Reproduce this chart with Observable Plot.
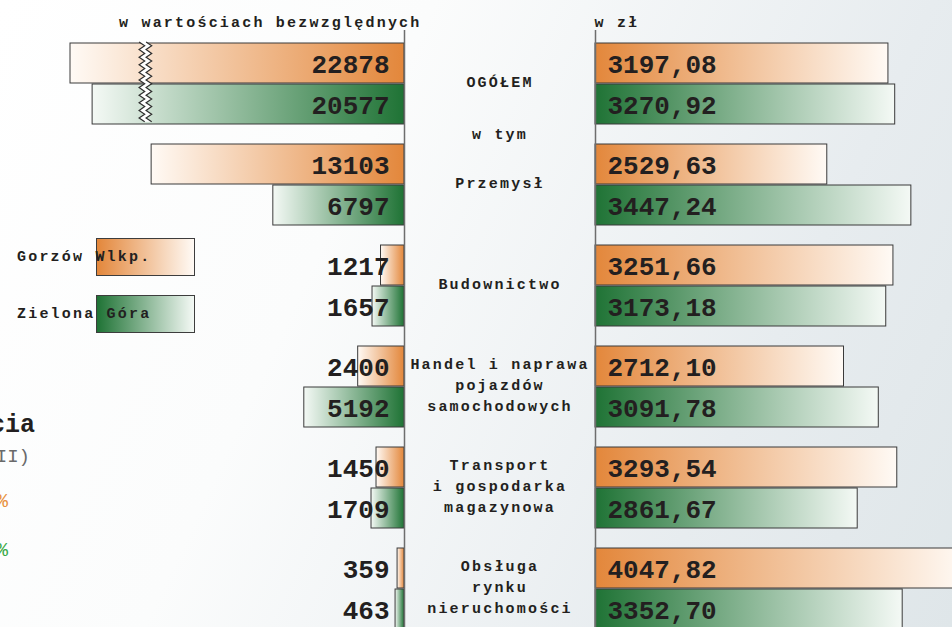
<!DOCTYPE html>
<html>
<head>
<meta charset="utf-8">
<script src="https://cdn.jsdelivr.net/npm/d3@7"></script>
<script src="https://cdn.jsdelivr.net/npm/@observablehq/plot@0.6"></script>
<style>
html, body { margin: 0; padding: 0; }
body { width: 952px; height: 627px; overflow: hidden;
  background: linear-gradient(115deg, #ffffff 0%, #fbfcfc 35%, #e7ecef 75%, #dfe6e9 100%); }
#wrap { position: relative; width: 952px; height: 627px; overflow: hidden; font-family: "Liberation Mono", monospace; color: #231f20; }
#wrap svg { position: absolute; left: 0; top: 0; }
g[aria-label="text"][font-size="15"] text { letter-spacing: 2.2px; }
.legbox { position: absolute; width: 97px; height: 36px; border: 1px solid #3d3d3d; }
.legtxt { position: absolute; left: 17px; font-weight: bold; font-size: 15px; letter-spacing: 2.2px; line-height: 20px; white-space: nowrap; }
.frag { position: absolute; white-space: nowrap; text-align: right; line-height: 1; }
</style>
</head>
<body>
<div id="wrap"></div>
<script>
// ---- data ----
const categories = ["OGÓŁEM", "Przemysł", "Budownictwo",
  "Handel i naprawa\npojazdów\nsamochodowych",
  "Transport\ni gospodarka\nmagazynowa",
  "Obsługa\nrynku\nnieruchomości"];
const cities = ["Gorzów Wlkp.", "Zielona Góra"];
const employedGorzow = [22878, 13103, 1217, 2400, 1450, 359];
const employedZielona = [20577, 6797, 1657, 5192, 1709, 463];
const wageGorzow = [3197.08, 2529.63, 3251.66, 2712.10, 3293.54, 4047.82];
const wageZielona = [3270.92, 3447.24, 3173.18, 3091.78, 2861.67, 3352.70];
const headerLeft = "w wartościach bezwzględnych";
const headerRight = "w zł";
const subLabel = "w tym";

// ---- styling ----
const orange = "#e3873b", orangeLight = "#fffaf5";
const green = "#1f7335", greenLight = "#f4f9f5";
const ink = "#231f20";
const BAND = 82, HALF = BAND / 2;
const yScale = {type: "band", domain: categories, range: [40.4, 631.9], paddingInner: 0.195, paddingOuter: 0, axis: null};

const rowsOf = (vals) => categories.map((c, i) => ({cat: c, value: vals[i]}));
const leftO = rowsOf(employedGorzow), leftG = rowsOf(employedZielona);
const rightO = rowsOf(wageGorzow), rightG = rowsOf(wageZielona);

function defsMark() {
  const defs = d3.create("svg:defs");
  const add = (id, c1, c2) => {
    const g = defs.append("linearGradient").attr("id", id)
      .attr("x1", "0%").attr("x2", "100%").attr("y1", "0%").attr("y2", "0%");
    g.append("stop").attr("offset", "0%").attr("stop-color", c1);
    g.append("stop").attr("offset", "100%").attr("stop-color", c2);
  };
  add("gL-o", orangeLight, orange);
  add("gL-g", greenLight, green);
  add("gR-o", orange, orangeLight);
  add("gR-g", green, greenLight);
  return defs.node();
}

// break ("zigzag") marker on the truncated OGÓŁEM bars
const breakValue = 14100;
function breakMark(index, scales) {
  const x = scales.x, y = scales.y;
  const xb = x(breakValue);
  const y0 = y(categories[0]) - 1;
  const bw = y.bandwidth ? y.bandwidth() : BAND;
  const y1 = y0 + bw + 2;
  const ptsL = [], ptsR = [];
  let k = 0;
  for (let yy = y0; yy <= y1 + 0.01; yy += 3.8, k++) {
    const off = (k % 2 ? 2.8 : -2.8);
    ptsL.push([xb - 3.5 + off, yy]);
    ptsR.push([xb + 3.5 + off, yy]);
  }
  const g = d3.create("svg:g");
  const poly = ptsL.concat(ptsR.slice().reverse());
  g.append("path").attr("d", "M" + poly.map(p => p.join(",")).join("L") + "Z").attr("fill", "#ffffff");
  const line = d3.line();
  g.append("path").attr("d", line(ptsL)).attr("fill", "none").attr("stroke", "#2e2e2e").attr("stroke-width", 1.2);
  g.append("path").attr("d", line(ptsR)).attr("fill", "none").attr("stroke", "#2e2e2e").attr("stroke-width", 1.2);
  return g.node();
}

const numText = {fontFamily: "Liberation Mono", fontSize: 26, fontWeight: "bold", fill: ink, lineAnchor: "middle"};
const lblText = {fontFamily: "Liberation Mono", fontSize: 15, fontWeight: "bold", fill: ink, lineAnchor: "middle"};
const NUM_DY = 1.2;

const left = Plot.plot({
  width: 952, height: 627, marginTop: 30, marginBottom: 0, marginLeft: 0, marginRight: 0,
  style: {background: "transparent"},
  x: {type: "linear", domain: [0, 13400, 15033, 22878], range: [404, 145.4, 145.4, 70], axis: null},
  y: yScale,
  marks: [
    defsMark,
    Plot.barX(leftO, {x: "value", y: "cat", insetBottom: HALF, fill: "url(#gL-o)", stroke: "#3a3a3a", strokeWidth: 1}),
    Plot.barX(leftG, {x: "value", y: "cat", insetTop: HALF, fill: "url(#gL-g)", stroke: "#3a3a3a", strokeWidth: 1}),
    breakMark,
    Plot.ruleX([0], {stroke: "#6e6e6e", strokeWidth: 1.5}),
    Plot.text(leftO, {...numText, x: 0, y: "cat", text: d => String(d.value), textAnchor: "end", dx: -15, dy: -HALF / 2 + NUM_DY}),
    Plot.text(leftG, {...numText, x: 0, y: "cat", text: d => String(d.value), textAnchor: "end", dx: -15, dy: HALF / 2 + NUM_DY}),
    Plot.text([headerLeft], {...lblText, x: 0, frameAnchor: "top", text: d => d, textAnchor: "end", dx: 17, dy: -8.3})
  ]
});

const right = Plot.plot({
  width: 952, height: 627, marginTop: 30, marginBottom: 0, marginLeft: 0, marginRight: 0,
  style: {background: "transparent"},
  x: {type: "linear", domain: [0, 4000], range: [595, 961.5], axis: null},
  y: yScale,
  marks: [
    Plot.barX(rightO, {x: "value", y: "cat", insetBottom: HALF, fill: "url(#gR-o)", stroke: "#3a3a3a", strokeWidth: 1}),
    Plot.barX(rightG, {x: "value", y: "cat", insetTop: HALF, fill: "url(#gR-g)", stroke: "#3a3a3a", strokeWidth: 1}),
    Plot.ruleX([0], {stroke: "#6e6e6e", strokeWidth: 1.5}),
    Plot.text(rightO, {...numText, x: 0, y: "cat", text: d => d.value.toFixed(2).replace(".", ","), textAnchor: "start", dx: 12, dy: -HALF / 2 + NUM_DY}),
    Plot.text(rightG, {...numText, x: 0, y: "cat", text: d => d.value.toFixed(2).replace(".", ","), textAnchor: "start", dx: 12, dy: HALF / 2 + NUM_DY}),
    Plot.text([headerRight], {...lblText, x: 0, frameAnchor: "top", text: d => d, textAnchor: "start", dx: -1, dy: -8.3})
  ]
});

const center = Plot.plot({
  width: 952, height: 627, marginTop: 0, marginBottom: 0, marginLeft: 404, marginRight: 357,
  style: {background: "transparent"},
  y: yScale,
  marks: [
    Plot.text(categories, {...lblText, y: d => d, text: d => d, frameAnchor: "middle", lineHeight: 1.4, dy: -4}),
    Plot.text([subLabel], {...lblText, y: () => categories[0], text: d => d, frameAnchor: "middle", dy: HALF + 9.5})
  ]
});

const wrap = document.getElementById("wrap");
wrap.appendChild(left);
wrap.appendChild(right);
wrap.appendChild(center);

// legend
const legendColors = [[orange, orangeLight], [green, greenLight]];
const legendTops = [238, 295];
const textTops = [248, 305];
cities.forEach((c, i) => {
  const box = document.createElement("div");
  box.className = "legbox";
  box.style.left = "96px";
  box.style.top = legendTops[i] + "px";
  box.style.background = `linear-gradient(to right, ${legendColors[i][0]}, ${legendColors[i][1]})`;
  wrap.appendChild(box);
  const t = document.createElement("div");
  t.className = "legtxt";
  t.style.top = textTops[i] + "px";
  t.textContent = c;
  wrap.appendChild(t);
});

// fragments of neighbouring page content cut by the left edge
const frags = [
  {text: "cia", right: 917, top: 413, size: 25, weight: "bold", color: ink},
  {text: "II)", right: 922, top: 448, size: 19, weight: "normal", color: "#6a6a6a"},
  {text: "%", right: 944, top: 492, size: 20, weight: "normal", color: "#e8913f"},
  {text: "%", right: 944, top: 541, size: 20, weight: "normal", color: "#3aaa48"}
];
frags.forEach(f => {
  const d = document.createElement("div");
  d.className = "frag";
  d.style.right = f.right + "px";
  d.style.top = f.top + "px";
  d.style.fontSize = f.size + "px";
  d.style.fontWeight = f.weight;
  d.style.color = f.color;
  d.textContent = f.text;
  wrap.appendChild(d);
});
</script>
</body>
</html>
